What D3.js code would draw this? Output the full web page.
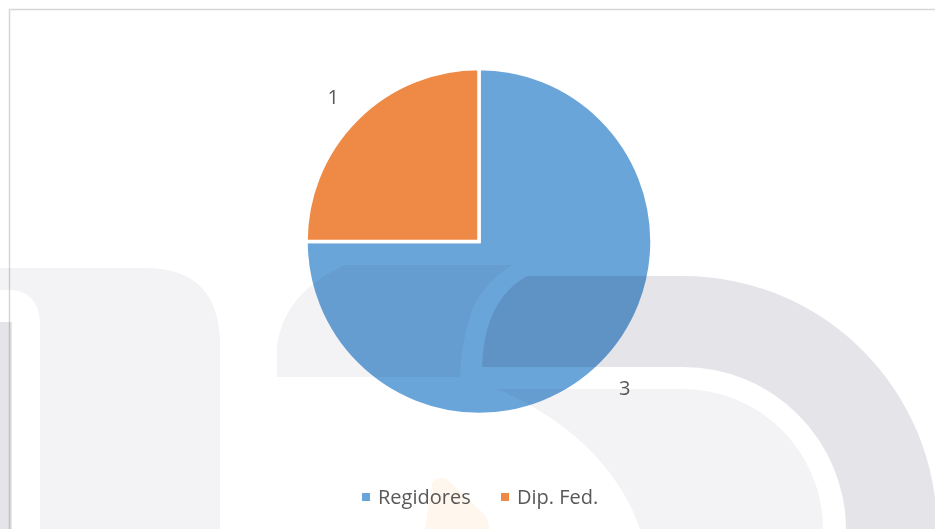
<!doctype html>
<html lang="es">
<head>
    <meta charset="UTF-8">
    <title>pie</title>
    <script src="https://d3js.org/d3.v7.min.js"></script>
    <style>
        body { margin: 0; background: #fff; }
        svg { display: block; font-family: "Open Sans", sans-serif; }
        .lbl { fill: #595959; font-size: 20px; }
        .wm { mix-blend-mode: multiply; }
    </style>
</head>
<body>
<div class="canvas"></div>

<script>
  // datos
  const categories = ['Regidores', 'Dip. Fed.'];
  const values = [3, 1];
  const colors = ['#6aa5d9', '#ee8a46'];

  const W = 935, H = 529;
  const cx = 479, cy = 241.5, radius = 173;

  const svg = d3.select('.canvas')
    .append('svg')
    .attr('width', W)
    .attr('height', H);

  // borde del area del grafico
  svg.append('path')
    .attr('d', `M9.5,${H} V9.5 H${W}`)
    .attr('fill', 'none')
    .attr('stroke', '#d6d6d6')
    .attr('stroke-width', 1.5);

  const color = d3.scaleOrdinal().domain(categories).range(colors);

  const pie = d3.pie().sort(null).value(d => d.value);
  const arcs = pie(categories.map((c, i) => ({ name: c, value: values[i] })));

  const arc = d3.arc().innerRadius(0).outerRadius(radius);
  const labelArc = d3.arc().innerRadius(206).outerRadius(206);

  const g = svg.append('g').attr('transform', `translate(${cx},${cy})`);

  g.selectAll('path')
    .data(arcs)
    .join('path')
    .attr('d', arc)
    .attr('fill', d => color(d.data.name))
    .attr('stroke', '#fff')
    .attr('stroke-width', 3.5)
    .attr('stroke-linejoin', 'miter');

  g.selectAll('text')
    .data(arcs)
    .join('text')
    .attr('class', 'lbl')
    .attr('transform', d => `translate(${labelArc.centroid(d)})`)
    .attr('text-anchor', 'middle')
    .attr('dy', '0.4em')
    .text(d => d.data.value);

  // leyenda
  const legendX = [362, 501];
  const legend = svg.append('g')
    .selectAll('g')
    .data(categories)
    .join('g')
    .attr('transform', (d, i) => `translate(${legendX[i]},493)`);

  legend.append('rect')
    .attr('width', 8)
    .attr('height', 8)
    .attr('fill', d => color(d));

  legend.append('text')
    .attr('class', 'lbl')
    .attr('x', 16)
    .attr('y', 11)
    .text(d => d);

  // marca de agua del fondo (aprox.)
  const wm = svg.append('g').attr('class', 'wm');
  const light = '#f3f3f6', dark = '#e4e4e9';

  wm.append('path').attr('fill', light)
    .attr('d', 'M0,268 H145 Q220,268 220,345 V529 H40 V322 Q38,292 12,290 H0 Z');
  wm.append('rect').attr('fill', dark)
    .attr('x', 0).attr('y', 322).attr('width', 12).attr('height', H - 322);

  wm.append('path').attr('fill', light)
    .attr('d', 'M345,265 H512 Q478,288 470,317 Q461,345 460,377 H277 V345 Q285,292 345,265 Z');

  wm.append('path').attr('fill', dark)
    .attr('d', 'M527,276 H683 A254,254 0 0 1 937,530 V529 H846 A163,163 0 0 0 683,367 H482 Q484,300 527,276 Z');

  wm.append('path').attr('fill', light)
    .attr('d', 'M497,389 H683 A140,140 0 0 1 823,529 H640 C620,470 570,420 497,389 Z');

  wm.append('path').attr('fill', '#fff6ee')
    .attr('d', 'M425,529 L432,483 Q438,476 447,479 L486,516 L490,529 Z');
</script>
</body>
</html>
